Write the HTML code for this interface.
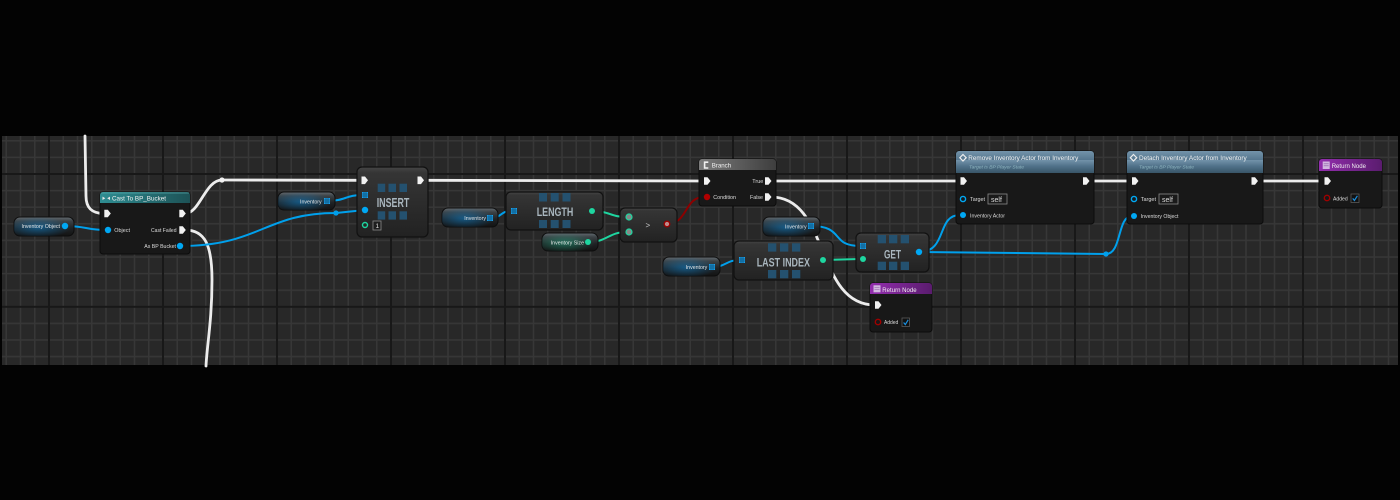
<!DOCTYPE html>
<html><head><meta charset="utf-8"><style>
html,body{margin:0;padding:0;background:#030303;width:1400px;height:500px;overflow:hidden;}
svg{display:block;}
text{font-family:"Liberation Sans",sans-serif;}
</style></head><body>
<svg width="1400" height="500" viewBox="0 0 1400 500" xmlns="http://www.w3.org/2000/svg">
<defs>
<pattern id="grid" patternUnits="userSpaceOnUse" x="48" y="173" width="114" height="132.8">
 <rect width="114" height="132.8" fill="#282828"/>
 <g fill="#373737">
  <rect x="14.5" y="0" width="1.5" height="132.8"/>
  <rect x="28.75" y="0" width="1.5" height="132.8"/>
  <rect x="43" y="0" width="1.5" height="132.8"/>
  <rect x="57.25" y="0" width="1.5" height="132.8"/>
  <rect x="71.5" y="0" width="1.5" height="132.8"/>
  <rect x="85.75" y="0" width="1.5" height="132.8"/>
  <rect x="100" y="0" width="1.5" height="132.8"/>
  <rect x="0" y="16.85" width="114" height="1.5"/>
  <rect x="0" y="33.45" width="114" height="1.5"/>
  <rect x="0" y="50.05" width="114" height="1.5"/>
  <rect x="0" y="66.65" width="114" height="1.5"/>
  <rect x="0" y="83.25" width="114" height="1.5"/>
  <rect x="0" y="99.85" width="114" height="1.5"/>
  <rect x="0" y="116.45" width="114" height="1.5"/>
 </g>
 <rect x="0" y="0" width="2" height="132.8" fill="#181818"/>
 <rect x="0" y="0" width="114" height="2" fill="#181818"/>
</pattern>
<linearGradient id="gPill" x1="0" y1="0" x2="0" y2="1">
 <stop offset="0" stop-color="#646c72"/>
 <stop offset="0.22" stop-color="#3c4246"/>
 <stop offset="0.6" stop-color="#1f2224"/>
 <stop offset="1" stop-color="#131313"/>
</linearGradient>
<radialGradient id="gBlue" cx="0.4" cy="0.55" r="0.55">
 <stop offset="0" stop-color="#0a8ce0" stop-opacity="0.5"/>
 <stop offset="1" stop-color="#0a8ce0" stop-opacity="0"/>
</radialGradient>
<radialGradient id="gTeal" cx="0.4" cy="0.55" r="0.55">
 <stop offset="0" stop-color="#1ed6a0" stop-opacity="0.4"/>
 <stop offset="1" stop-color="#1ed6a0" stop-opacity="0"/>
</radialGradient>
<linearGradient id="gCompact" x1="0" y1="0" x2="0" y2="1">
 <stop offset="0" stop-color="#474747"/>
 <stop offset="0.08" stop-color="#353535"/>
 <stop offset="1" stop-color="#222222"/>
</linearGradient>
<linearGradient id="gCast" x1="0" y1="0" x2="1" y2="0">
 <stop offset="0" stop-color="#2f8d92"/>
 <stop offset="1" stop-color="#1d5256"/>
</linearGradient>
<linearGradient id="gBranch" x1="0" y1="0" x2="1" y2="0">
 <stop offset="0" stop-color="#7c7c7c"/>
 <stop offset="1" stop-color="#3e3e3e"/>
</linearGradient>
<linearGradient id="gFunc" x1="0" y1="0" x2="0" y2="1">
 <stop offset="0" stop-color="#7393aa"/>
 <stop offset="0.5" stop-color="#4f7088"/>
 <stop offset="1" stop-color="#385568"/>
</linearGradient>
<linearGradient id="gRet" x1="0" y1="0" x2="1" y2="0">
 <stop offset="0" stop-color="#932eae"/>
 <stop offset="1" stop-color="#5a1c6e"/>
</linearGradient>
<g id="exec"><polygon points="0,-3.8 3.5,-3.8 6.5,0 3.5,3.8 0,3.8" fill="#f2f2f2"/></g>
<g id="arr">
 <rect x="-3" y="-3" width="6" height="6" fill="#1aa0ea"/>
 <path d="M-1,-3 V3 M1,-3 V3 M-3,-1 H3 M-3,1 H3" stroke="#0b3a58" stroke-width="0.6"/>
</g>
</defs>

<rect x="0" y="0" width="1400" height="500" fill="#030303"/>
<rect x="2" y="136" width="1396" height="229" fill="url(#grid)"/>

<g fill="none" stroke-linecap="round">
 <g stroke="#ececec" stroke-width="2.8">
  <path d="M85,136 L86,196 C86,208 92,213.5 104,213.5"/>
  <path d="M185,213.5 C200,213.5 205,180 222,180 L361.5,180.3"/>
  <path d="M185,230 C205,230 212,245 212,280 C212,320 207,345 206,366"/>
  <path d="M423,180.3 L704,181"/>
  <path d="M771,181 L960.5,181"/>
  <path d="M771,197 C830,197 815,305 875,305"/>
  <path d="M1089,181 L1132,181"/>
  <path d="M1257,181 L1324.5,181"/>
 </g>
 <g stroke="#00a0ec" stroke-width="2">
  <path d="M65,226 C85,226 88,230 105,230"/>
  <path d="M180,246 C260,246 265,213 336,213 L365,210"/>
  <path d="M327,201 C345,201 346,195 362,195"/>
  <path d="M490,218 C502,218 500,211 511,211"/>
  <path d="M712,267 C726,267 726,260 740,260"/>
  <path d="M811,226 C845,226 830,246 860,246"/>
  <path d="M919,252 C948,252 936,215 960,215"/>
  <path d="M919,252 L1106,254 C1122,254 1117,216 1132,216"/>
 </g>
 <g stroke="#1ed6a0" stroke-width="2">
  <path d="M592,211 C610,211 610,217 627,217"/>
  <path d="M588,242 C608,242 608,232 627,232"/>
  <path d="M823,260 L860,259"/>
 </g>
 <path d="M667,224 C688,224 684,197 704,197" stroke="#8c0000" stroke-width="2"/>
</g>
<circle cx="222" cy="180" r="2.6" fill="#f2f2f2"/>
<circle cx="336" cy="213" r="2.6" fill="#00a0ec"/>
<circle cx="1106" cy="254" r="2.6" fill="#00a0ec"/>

<g stroke="#0e0e0e" stroke-width="1">
 <rect x="14" y="217" width="60" height="19" rx="6" fill="url(#gPill)"/>
 <rect x="278" y="192" width="57" height="18" rx="6" fill="url(#gPill)"/>
 <rect x="442" y="208" width="56" height="19" rx="6" fill="url(#gPill)"/>
 <rect x="542" y="233" width="56" height="18" rx="6" fill="url(#gPill)"/>
 <rect x="763" y="217" width="57" height="19" rx="6" fill="url(#gPill)"/>
 <rect x="663" y="257" width="57" height="19" rx="6" fill="url(#gPill)"/>
</g>
<rect x="14" y="217" width="60" height="19" rx="6" fill="url(#gBlue)"/>
<rect x="278" y="192" width="57" height="18" rx="6" fill="url(#gBlue)"/>
<rect x="442" y="208" width="56" height="19" rx="6" fill="url(#gBlue)"/>
<rect x="542" y="233" width="56" height="18" rx="6" fill="url(#gTeal)"/>
<rect x="763" y="217" width="57" height="19" rx="6" fill="url(#gBlue)"/>
<rect x="663" y="257" width="57" height="19" rx="6" fill="url(#gBlue)"/>
<g fill="#e4e4e4" font-size="5.8">
 <text x="21.5" y="228" textLength="38.5" lengthAdjust="spacingAndGlyphs">Inventory Object</text>
 <text x="300" y="203.5" textLength="21.7" lengthAdjust="spacingAndGlyphs">Inventory</text>
 <text x="464.3" y="220.2" textLength="21.7" lengthAdjust="spacingAndGlyphs">Inventory</text>
 <text x="550.7" y="244.3" textLength="33.3" lengthAdjust="spacingAndGlyphs">Inventory Size</text>
 <text x="785" y="228.5" textLength="21.7" lengthAdjust="spacingAndGlyphs">Inventory</text>
 <text x="685.7" y="269" textLength="21.6" lengthAdjust="spacingAndGlyphs">Inventory</text>
</g>

<rect x="100" y="192" width="90" height="62" rx="3" fill="#181818" stroke="#0c0c0c" stroke-width="1"/>
<rect x="100" y="192" width="90" height="11" rx="3" fill="url(#gCast)"/>
<rect x="100" y="196" width="90" height="7" fill="url(#gCast)"/>
<rect x="101" y="192.5" width="88" height="1" fill="#5fb5b8" opacity="0.6"/>
<polygon points="102.5,196.6 105.3,198.3 102.5,200" fill="#e8e8e8"/>
<polygon points="110,196.6 107.2,198.3 110,200" fill="#e8e8e8"/>
<text x="112" y="200.5" font-size="6.8" fill="#f2f2f2" textLength="54" lengthAdjust="spacingAndGlyphs">Cast To BP_Bucket</text>
<g font-size="5.6" fill="#dcdcdc">
 <text x="114.3" y="232" textLength="15.7" lengthAdjust="spacingAndGlyphs">Object</text>
 <text x="151" y="232" textLength="25.5" lengthAdjust="spacingAndGlyphs">Cast Failed</text>
 <text x="144.3" y="248" textLength="31.7" lengthAdjust="spacingAndGlyphs">As BP Bucket</text>
</g>

<rect x="357" y="167" width="71" height="70" rx="5" fill="url(#gCompact)" stroke="#111" stroke-width="1.2"/>
<g fill="#24516f">
 <rect x="377.7" y="183.7" width="7.5" height="8.3"/><rect x="388.5" y="183.7" width="7.5" height="8.3"/><rect x="399.5" y="183.7" width="7.5" height="8.3"/>
 <rect x="377.7" y="211.3" width="7.5" height="8.3"/><rect x="388.5" y="211.3" width="7.5" height="8.3"/><rect x="399.5" y="211.3" width="7.5" height="8.3"/>
</g>
<text x="376.7" y="207" font-size="12.5" font-weight="bold" fill="#a9b6be" textLength="32.6" lengthAdjust="spacingAndGlyphs">INSERT</text>
<rect x="373" y="221" width="8" height="9" fill="#1e1e1e" stroke="#8a8a8a" stroke-width="0.8"/>
<text x="375.5" y="228.2" font-size="6.5" fill="#dddddd">1</text>

<rect x="506" y="192" width="97" height="38" rx="5" fill="url(#gCompact)" stroke="#111" stroke-width="1.2"/>
<g fill="#24516f">
 <rect x="539" y="193" width="8" height="8.5"/><rect x="550.7" y="193" width="8" height="8.5"/><rect x="562.5" y="193" width="8" height="8.5"/>
 <rect x="539" y="220" width="8" height="8"/><rect x="550.7" y="220" width="8" height="8"/><rect x="562.5" y="220" width="8" height="8"/>
</g>
<text x="536.7" y="216" font-size="11.5" font-weight="bold" fill="#a9b6be" textLength="36.6" lengthAdjust="spacingAndGlyphs">LENGTH</text>

<rect x="620" y="208" width="57" height="34" rx="5" fill="url(#gCompact)" stroke="#111" stroke-width="1.2"/>
<text x="645.5" y="228" font-size="8" fill="#c8c8c8">&gt;</text>

<rect x="699" y="159" width="77" height="47" rx="3" fill="#181818" stroke="#0c0c0c" stroke-width="1"/>
<rect x="699" y="159" width="77" height="11" rx="3" fill="url(#gBranch)"/>
<rect x="699" y="163" width="77" height="7" fill="url(#gBranch)"/>
<path d="M708.3,162.2 H704.6 V168 H708.3" fill="none" stroke="#f0f0f0" stroke-width="1.6"/>
<text x="711.7" y="167.6" font-size="6.8" fill="#f0f0f0" textLength="19.5" lengthAdjust="spacingAndGlyphs">Branch</text>
<g font-size="5.6" fill="#dcdcdc">
 <text x="752.3" y="183" textLength="11" lengthAdjust="spacingAndGlyphs">True</text>
 <text x="713.3" y="199" textLength="22.7" lengthAdjust="spacingAndGlyphs">Condition</text>
 <text x="750" y="199" textLength="13" lengthAdjust="spacingAndGlyphs">False</text>
</g>

<rect x="734" y="241" width="99" height="39" rx="5" fill="url(#gCompact)" stroke="#111" stroke-width="1.2"/>
<g fill="#24516f">
 <rect x="768" y="243.3" width="8.3" height="8.3"/><rect x="780" y="243.3" width="8.3" height="8.3"/><rect x="792" y="243.3" width="8.3" height="8.3"/>
 <rect x="768" y="270" width="8.3" height="8.3"/><rect x="780" y="270" width="8.3" height="8.3"/><rect x="792" y="270" width="8.3" height="8.3"/>
</g>
<text x="756.7" y="266.5" font-size="12" font-weight="bold" fill="#a9b6be" textLength="53.3" lengthAdjust="spacingAndGlyphs">LAST INDEX</text>

<rect x="856" y="233" width="73" height="39" rx="5" fill="url(#gCompact)" stroke="#111" stroke-width="1.2"/>
<g fill="#24516f">
 <rect x="877.7" y="235" width="8.3" height="8.3"/><rect x="889" y="235" width="8.3" height="8.3"/><rect x="900.7" y="235" width="8.3" height="8.3"/>
 <rect x="877.7" y="261.7" width="8.3" height="8.3"/><rect x="889" y="261.7" width="8.3" height="8.3"/><rect x="900.7" y="261.7" width="8.3" height="8.3"/>
</g>
<text x="884" y="258.3" font-size="12" font-weight="bold" fill="#a9b6be" textLength="17" lengthAdjust="spacingAndGlyphs">GET</text>

<rect x="870" y="283" width="62" height="49" rx="3" fill="#181818" stroke="#0c0c0c" stroke-width="1"/>
<rect x="870" y="283" width="62" height="11" rx="3" fill="url(#gRet)"/>
<rect x="870" y="287" width="62" height="7" fill="url(#gRet)"/>
<rect x="873.5" y="285.3" width="7" height="7" fill="#d2b8e0"/>
<path d="M874.5,287.5 H879.5 M874.5,289.5 H879.5" stroke="#8a5aa0" stroke-width="0.6"/>
<text x="882.3" y="291.8" font-size="6.6" fill="#f0f0f0" textLength="34.3" lengthAdjust="spacingAndGlyphs">Return Node</text>
<text x="884" y="324.2" font-size="5.6" fill="#dcdcdc" textLength="14.3" lengthAdjust="spacingAndGlyphs">Added</text>
<rect x="902" y="318" width="7.5" height="8.5" fill="#111" stroke="#5a5a5a" stroke-width="0.8"/>
<path d="M903.6,322.5 L905.3,324.6 L908.2,319.8" fill="none" stroke="#1a90e0" stroke-width="1.2"/>

<rect x="956" y="151" width="138" height="73" rx="3" fill="#181818" stroke="#0c0c0c" stroke-width="1"/>
<rect x="956" y="151" width="138" height="22" rx="3" fill="url(#gFunc)"/>
<rect x="956" y="160" width="138" height="13" fill="url(#gFunc)"/>
<path d="M963,154.5 L966.2,157.7 L963,161 L959.8,157.7 Z" fill="none" stroke="#eeeeee" stroke-width="1.2"/>
<text x="968.3" y="160" font-size="6.5" fill="#f4f4f4" textLength="110" lengthAdjust="spacingAndGlyphs">Remove Inventory Actor from Inventory</text>
<text x="969" y="168.3" font-size="4.6" font-style="italic" fill="#8fb6c0" textLength="55" lengthAdjust="spacingAndGlyphs">Target is BP Player State</text>
<g font-size="5.6" fill="#dcdcdc">
 <text x="970" y="201.2" textLength="15" lengthAdjust="spacingAndGlyphs">Target</text>
 <text x="970" y="217.5" textLength="35" lengthAdjust="spacingAndGlyphs">Inventory Actor</text>
</g>
<rect x="988" y="194" width="19" height="10" fill="#1a1a1a" stroke="#8a8a8a" stroke-width="0.8"/>
<text x="991" y="202" font-size="7" fill="#dddddd">self</text>

<rect x="1127" y="151" width="136" height="73" rx="3" fill="#181818" stroke="#0c0c0c" stroke-width="1"/>
<rect x="1127" y="151" width="136" height="22" rx="3" fill="url(#gFunc)"/>
<rect x="1127" y="160" width="136" height="13" fill="url(#gFunc)"/>
<path d="M1133.5,154.5 L1136.7,157.7 L1133.5,161 L1130.3,157.7 Z" fill="none" stroke="#eeeeee" stroke-width="1.2"/>
<text x="1139" y="160" font-size="6.5" fill="#f4f4f4" textLength="107.7" lengthAdjust="spacingAndGlyphs">Detach Inventory Actor from Inventory</text>
<text x="1139" y="168.3" font-size="4.6" font-style="italic" fill="#8fb6c0" textLength="55" lengthAdjust="spacingAndGlyphs">Target is BP Player State</text>
<g font-size="5.6" fill="#dcdcdc">
 <text x="1140.7" y="201.2" textLength="15.3" lengthAdjust="spacingAndGlyphs">Target</text>
 <text x="1140.7" y="218" textLength="37.7" lengthAdjust="spacingAndGlyphs">Inventory Object</text>
</g>
<rect x="1159" y="194" width="19" height="10" fill="#1a1a1a" stroke="#8a8a8a" stroke-width="0.8"/>
<text x="1162" y="202" font-size="7" fill="#dddddd">self</text>

<rect x="1319" y="159" width="63" height="49" rx="3" fill="#181818" stroke="#0c0c0c" stroke-width="1"/>
<rect x="1319" y="159" width="63" height="12" rx="3" fill="url(#gRet)"/>
<rect x="1319" y="163" width="63" height="8" fill="url(#gRet)"/>
<rect x="1322.7" y="161.5" width="7" height="7.5" fill="#d2b8e0"/>
<path d="M1323.7,163.8 H1328.7 M1323.7,165.8 H1328.7" stroke="#8a5aa0" stroke-width="0.6"/>
<text x="1331.7" y="168" font-size="6.6" fill="#f0f0f0" textLength="34.3" lengthAdjust="spacingAndGlyphs">Return Node</text>
<text x="1333" y="200.3" font-size="5.6" fill="#dcdcdc" textLength="14.7" lengthAdjust="spacingAndGlyphs">Added</text>
<rect x="1351" y="194" width="8" height="8.5" fill="#111" stroke="#5a5a5a" stroke-width="0.8"/>
<path d="M1352.7,198.4 L1354.4,200.5 L1357.4,195.8" fill="none" stroke="#1a90e0" stroke-width="1.2"/>

<use href="#exec" x="104.3" y="213.5"/>
<use href="#exec" x="179.3" y="213.5"/>
<use href="#exec" x="179.3" y="230"/>
<use href="#exec" x="361.5" y="180.3"/>
<use href="#exec" x="417.5" y="180.3"/>
<use href="#exec" x="704" y="181"/>
<use href="#exec" x="765" y="181"/>
<use href="#exec" x="765" y="197"/>
<use href="#exec" x="875" y="305"/>
<use href="#exec" x="960.5" y="181"/>
<use href="#exec" x="1083" y="181"/>
<use href="#exec" x="1132" y="181"/>
<use href="#exec" x="1251.5" y="181"/>
<use href="#exec" x="1324.5" y="181"/>

<use href="#arr" x="327" y="201"/>
<use href="#arr" x="365" y="195"/>
<use href="#arr" x="490" y="218"/>
<use href="#arr" x="514" y="211"/>
<use href="#arr" x="811" y="226"/>
<use href="#arr" x="712" y="267"/>
<use href="#arr" x="742" y="260"/>
<use href="#arr" x="863" y="246"/>

<g fill="#00a8f4">
 <circle cx="65" cy="226" r="3.2"/>
 <circle cx="108" cy="230" r="3.2"/>
 <circle cx="180" cy="246" r="3.2"/>
 <circle cx="365" cy="210" r="3.2"/>
 <circle cx="919" cy="252" r="3.2"/>
 <circle cx="963" cy="215" r="3"/>
 <circle cx="1134" cy="216" r="3"/>
</g>
<g fill="none" stroke="#00a8f4" stroke-width="1.4">
 <circle cx="963" cy="199" r="2.6"/>
 <circle cx="1134" cy="199" r="2.6"/>
</g>

<circle cx="365" cy="225" r="2.5" fill="none" stroke="#1ed6a0" stroke-width="1.4"/>
<g fill="#1ed6a0">
 <circle cx="592" cy="211" r="3"/>
 <circle cx="588" cy="242" r="3"/>
 <circle cx="823" cy="260" r="3"/>
 <circle cx="863" cy="259" r="3"/>
</g>
<circle cx="629" cy="217" r="3" fill="#888" stroke="#1ed6a0" stroke-width="1.2"/>
<circle cx="629" cy="232" r="3" fill="#888" stroke="#1ed6a0" stroke-width="1.2"/>

<circle cx="667" cy="224" r="2.8" fill="#c08a8a" stroke="#9a0000" stroke-width="1.3"/>
<circle cx="707" cy="197" r="3.2" fill="#b00000"/>
<circle cx="878" cy="322" r="2.7" fill="none" stroke="#a00000" stroke-width="1.4"/>
<circle cx="1327" cy="198" r="2.7" fill="none" stroke="#a00000" stroke-width="1.4"/>
</svg>
</body></html>
